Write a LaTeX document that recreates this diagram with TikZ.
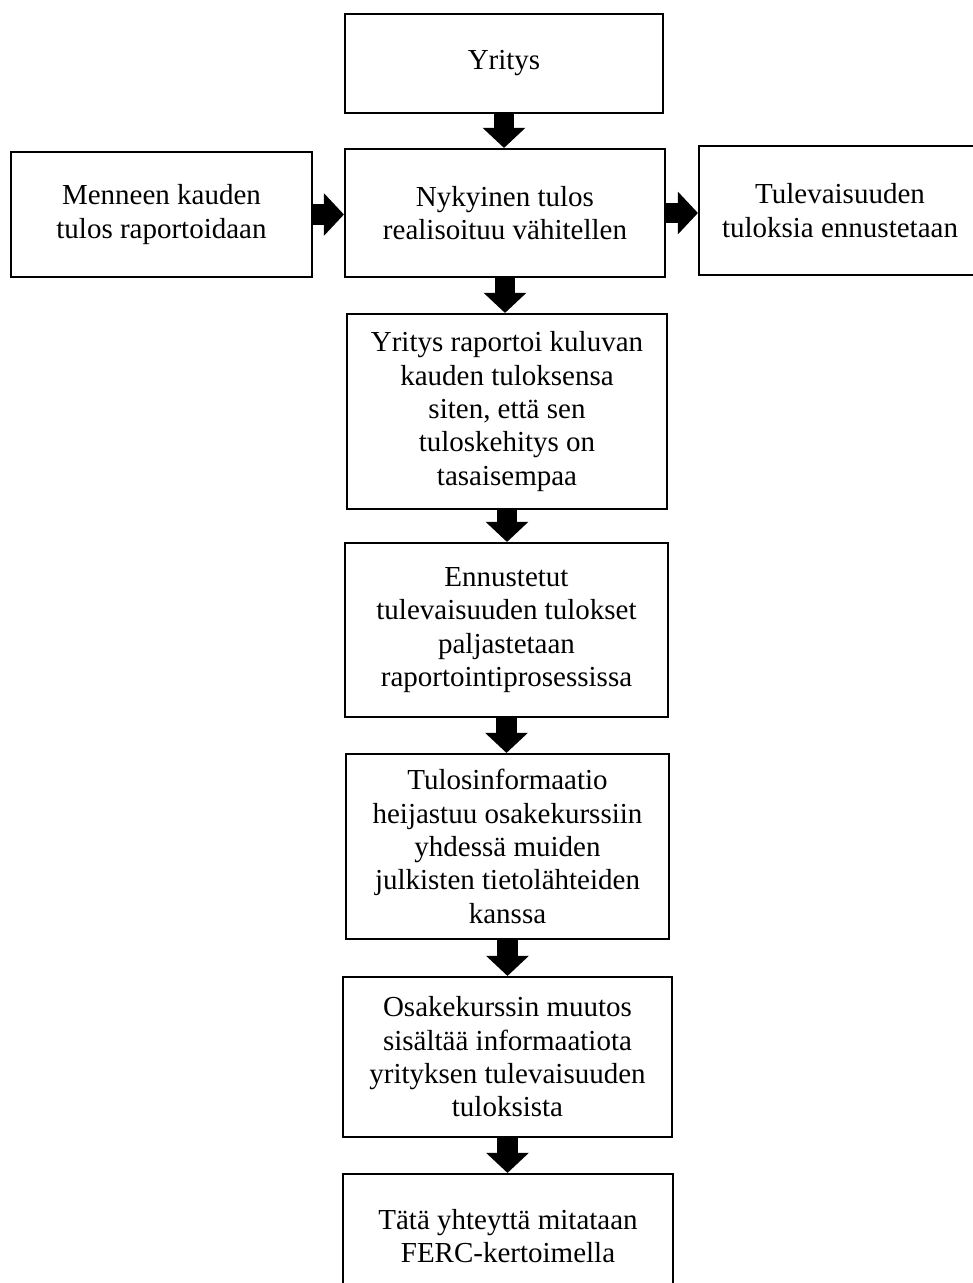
\documentclass[tikz,border=0pt]{standalone}
\usepackage{fontspec}
\setmainfont{Liberation Serif}
\usetikzlibrary{arrows.meta}
\newlength\pxu
\setlength\pxu{0.75pt}
\begin{document}
\begin{tikzpicture}[x=0.75pt,y=-0.75pt,
  box/.style={draw=black, line width=2.2\pxu, inner sep=0pt, align=center,
    font=\fontsize{21.75pt}{25pt}\selectfont},
  blk/.style={line width=15.5pt,
    -{Triangle[length=15pt, width=32pt, line width=0pt]}}]
\useasboundingbox (0,0) rectangle (973,1283);

% boxes: centre, width, height in pixel units
\node[box, minimum width=318\pxu, minimum height=99\pxu]  (top)  at (504,63.5)   {Yritys};
\node[box, minimum width=320\pxu, minimum height=128\pxu] (now)  at (505,213)    {Nykyinen tulos\\realisoituu vähitellen};
\node[box, minimum width=301\pxu, minimum height=125\pxu] (past) at (161.5,214.5) {Menneen kauden\\tulos raportoidaan};
\node[box, minimum width=282\pxu, minimum height=129\pxu] (fut)  at (840,210.5)  {Tulevaisuuden\\tuloksia ennustetaan};
\node[box, minimum width=320\pxu, minimum height=195\pxu] (rep)  at (507,411.5)  {Yritys raportoi kuluvan\\kauden tuloksensa\\siten, että sen\\tuloskehitys on\\tasaisempaa};
\node[box, minimum width=323\pxu, minimum height=174\pxu] (fore) at (506.5,630)  {Ennustetut\\tulevaisuuden tulokset\\paljastetaan\\raportointiprosessissa};
\node[box, minimum width=323\pxu, minimum height=185\pxu] (info) at (507.5,846.5) {Tulosinformaatio\\heijastuu osakekurssiin\\yhdessä muiden\\julkisten tietolähteiden\\kanssa};
\node[box, minimum width=329\pxu, minimum height=160\pxu] (price) at (507.5,1057) {Osakekurssin muutos\\sisältää informaatiota\\yrityksen tulevaisuuden\\tuloksista};
\node[box, minimum width=330\pxu, minimum height=124\pxu] (ferc) at (508,1236)  {Tätä yhteyttä mitataan\\FERC-kertoimella};

% block arrows between the boxes
\draw[blk] (top.south)   -- (top.south |- now.north);
\draw[blk] (past.east)   -- (now.west |- past.east);
\draw[blk] (now.east)    -- (fut.west |- now.east);
\draw[blk] (now.south)   -- (now.south |- rep.north);
\draw[blk] (rep.south)   -- (rep.south |- fore.north);
\draw[blk] (fore.south)  -- (fore.south |- info.north);
\draw[blk] (info.south)  -- (info.south |- price.north);
\draw[blk] (price.south) -- (price.south |- ferc.north);
\end{tikzpicture}
\end{document}
